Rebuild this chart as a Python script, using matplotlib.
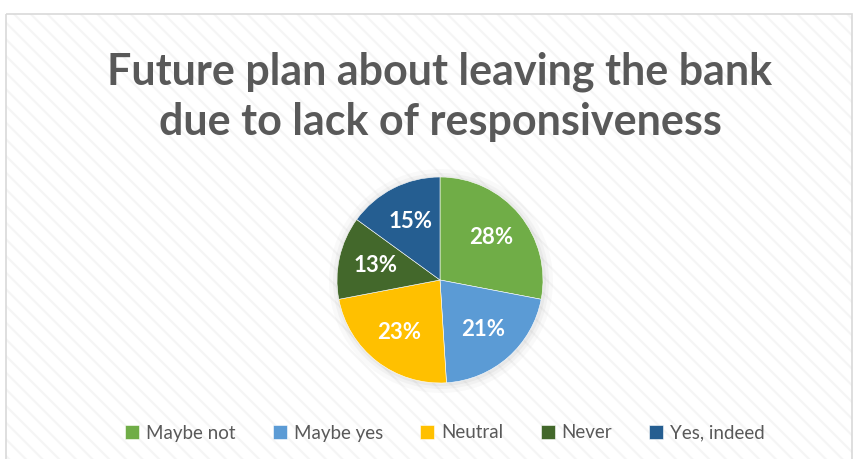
import matplotlib.pyplot as plt
from matplotlib.patches import Rectangle

# --- data ---
labels = ['Maybe not', 'Maybe yes', 'Neutral', 'Never', 'Yes, indeed']
shares = [28, 21, 23, 13, 15]
colors = ['#70AD47', '#5B9BD5', '#FFC000', '#43682B', '#255E91']
title = 'Future plan about leaving the bank\ndue to lack of responsiveness'

plt.rcParams['font.family'] = ['Lato', 'DejaVu Sans']

fig = plt.figure(figsize=(8.54, 4.59), dpi=100)

# chart area frame with faint diagonal hatch
bg = fig.add_axes([0, 0, 1, 1])
bg.set_xlim(0, 854)
bg.set_ylim(459, 0)
bg.axis('off')
plt.rcParams['hatch.linewidth'] = 1.5
bg.add_patch(Rectangle((6, 14), 846, 450, facecolor='white', edgecolor='#F5F5F5',
                       hatch='\\\\', linewidth=0))
bg.add_patch(Rectangle((6, 14), 846, 450, facecolor='none', edgecolor='#D9D9D9',
                       linewidth=1.2))

bg.text(440, 97, title, ha='center', va='center', fontsize=31, fontweight='bold',
        color='#595959', linespacing=1.3)

# soft shadow behind the pie
for rr, a in [(112, 0.04), (108, 0.06), (105, 0.08)]:
    bg.add_patch(plt.Circle((441, 281), rr, color='#7F7F7F', alpha=a, lw=0))

# pie: center (440, 280), radius ~103 px
r = 103
ax = fig.add_axes([(440 - r) / 854, (459 - 280 - r) / 459, 2 * r / 854, 2 * r / 459])
wedges, texts, autotexts = ax.pie(
    shares, colors=colors, startangle=90, counterclock=False,
    autopct='%d%%', pctdistance=0.64,
    wedgeprops=dict(edgecolor='white', linewidth=0.4),
    textprops=dict(color='white', fontsize=16, fontweight='bold'))
ax.set_xlim(-1, 1)
ax.set_ylim(-1, 1)
ax.set_aspect('equal')

leg = fig.legend(wedges, labels, loc='center', bbox_to_anchor=(445 / 854, 1 - 433 / 459),
                 ncol=5, frameon=False, fontsize=13.5, handlelength=0.75, handleheight=0.75,
                 handletextpad=0.35, columnspacing=2.0)
for t in leg.get_texts():
    t.set_color('#595959')

fig.savefig('out.png', dpi=100)
